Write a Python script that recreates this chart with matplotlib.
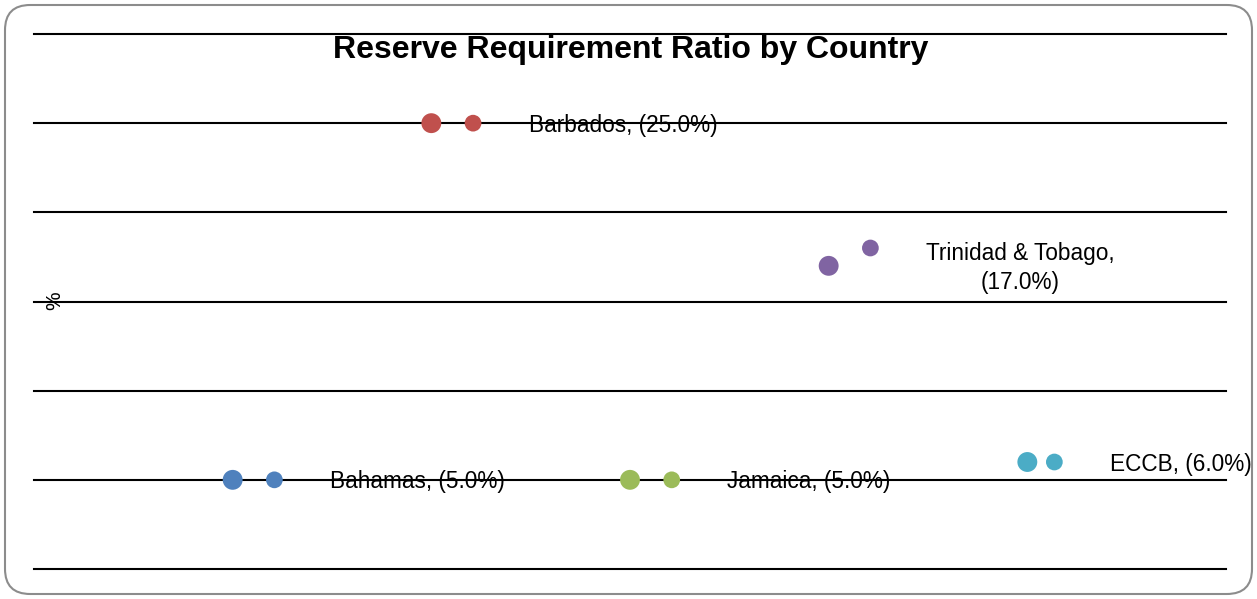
import matplotlib.pyplot as plt
from matplotlib.patches import FancyBboxPatch

countries = ["Bahamas", "Barbados", "Jamaica", "Trinidad & Tobago", "ECCB"]
labels = ["Bahamas, (5.0%)", "Barbados, (25.0%)", "Jamaica, (5.0%)",
          "Trinidad & Tobago,\n(17.0%)", "ECCB, (6.0%)"]
ratio_a = [5.0, 25.0, 5.0, 17.0, 6.0]
ratio_b = [5.0, 25.0, 5.0, 18.0, 6.0]
shift_b = [0.21, 0.21, 0.21, 0.21, 0.136]
colors = ["#4F81BD", "#C0504D", "#9BBB59", "#8064A2", "#4BACC6"]

plt.rcParams['font.family'] = ['Liberation Sans', 'DejaVu Sans']

fig = plt.figure(figsize=(12.57, 5.99), dpi=100)
ax = fig.add_axes([34 / 1257, 1 - 569 / 599, 1192 / 1257, 535 / 599])

xa = [i + 1 for i in range(len(countries))]
xb = [x + s for x, s in zip(xa, shift_b)]
ax.scatter(xa, ratio_a, s=205, c=colors, zorder=3, linewidths=0)
ax.scatter(xb, ratio_b, s=145, c=colors, zorder=3, linewidths=0)

for x, y, lab in zip(xb, ratio_a, labels):
    ax.annotate(lab, (x, y), xytext=(40, -1.5), textcoords="offset points",
                ha="left", va="center", multialignment="center",
                fontsize=16.3, linespacing=1.35, zorder=2)

for y in range(0, 31, 5):
    ax.axhline(y, color="black", lw=1.5, zorder=1, clip_on=False)

ax.set_xlim(0, 6)
ax.set_ylim(0, 30)
ax.set_xticks([])
ax.set_yticks([])
for s in ax.spines.values():
    s.set_visible(False)
ax.patch.set_alpha(0)

fig.text(631 / 1257, 1 - 50 / 599, "Reserve Requirement Ratio by Country",
         ha="center", va="center", fontsize=23, fontweight="bold")
fig.text(55 / 1257, 1 - 301 / 599, "%", ha="center", va="center",
         rotation=90, fontsize=15)

border = FancyBboxPatch((5 / 1257, 5 / 599), 1247 / 1257, 589 / 599,
                        boxstyle="round,pad=0,rounding_size=0.02",
                        transform=fig.transFigure, fill=False,
                        edgecolor="#8c8c8c", lw=1.5, mutation_aspect=1257 / 599)
fig.patches.append(border)

fig.savefig("out.png", dpi=100)
